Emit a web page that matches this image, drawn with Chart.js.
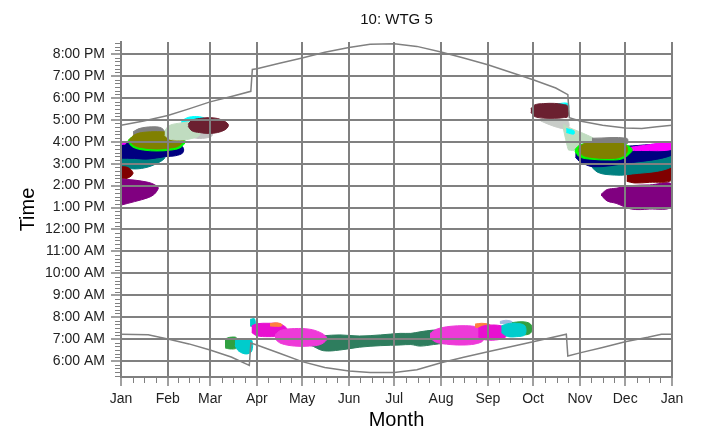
<!DOCTYPE html>
<html>
<head>
<meta charset="utf-8">
<title>10: WTG 5</title>
<script src="https://cdn.jsdelivr.net/npm/chart.js@4"></script>
<style>
  html, body { margin: 0; padding: 0; background: #fff; }
  #wrap { width: 701px; height: 435px; }
</style>
</head>
<body>
<div id="wrap"><canvas id="chart"></canvas></div>
<script>
// axis labels
const monthStarts = [0, 31, 59, 90, 120, 151, 181, 212, 243, 273, 304, 334, 365];
const monthLabels = ['Jan', 'Feb', 'Mar', 'Apr', 'May', 'Jun', 'Jul', 'Aug', 'Sep', 'Oct', 'Nov', 'Dec', 'Jan'];
const hourTicks = [6, 7, 8, 9, 10, 11, 12, 13, 14, 15, 16, 17, 18, 19, 20];

// sun set / sun rise (day of year, hour)
const sunsetDay  = [0, 15, 31, 45, 59, 75, 86, 87, 90, 105, 120, 135, 151, 165, 181, 196, 212, 227, 243, 258, 273, 288, 296, 297, 304, 319, 334, 345, 355, 365];
const sunsetTime = [16.75, 16.95, 17.2, 17.5, 17.82, 18.1, 18.3, 19.3, 19.33, 19.58, 19.82, 20.08, 20.3, 20.45, 20.47, 20.35, 20.09, 19.82, 19.51, 19.17, 18.83, 18.45, 18.15, 17.1, 16.95, 16.75, 16.63, 16.6, 16.68, 16.75];
const sunriseDay  = [0, 18, 31, 45, 59, 73, 85, 86, 90, 105, 120, 135, 151, 165, 181, 196, 212, 227, 243, 258, 273, 295, 296, 304, 319, 334, 349, 358, 365];
const sunriseTime = [7.22, 7.2, 7.0, 6.78, 6.5, 6.18, 5.8, 6.82, 6.73, 6.35, 5.97, 5.7, 5.54, 5.47, 5.48, 5.6, 5.92, 6.17, 6.42, 6.65, 6.88, 7.22, 6.23, 6.37, 6.62, 6.88, 7.08, 7.22, 7.22];

// shadow areas: [day, from hour, to hour]
const greyJan     = [[8, 16.1, 16.45], [12, 15.9, 16.6], [20, 15.9, 16.68], [27, 16.0, 16.62], [30, 16.2, 16.3]];
const tealJan     = [[0, 14.85, 15.6], [9, 14.76, 15.6], [18, 14.85, 15.6], [26, 15.09, 15.5], [29, 15.25, 15.3]];
const navyJan     = [[0, 15.25, 15.95], [9, 15.24, 16.0], [18, 15.21, 16.05], [29, 15.32, 16.0], [36, 15.36, 15.95], [41, 15.5, 15.75]];
const magentaJan  = [[0, 15.88, 16.0], [3, 15.9, 15.98]];
const greenJan    = [[4.5, 16.0, 16.05], [8, 15.75, 16.25], [15, 15.62, 16.38], [24, 15.58, 16.42], [33, 15.62, 16.38], [39, 15.72, 16.25], [42.4, 15.95, 16.05]];
const oliveJan    = [[5.5, 16.03, 16.1], [9, 15.82, 16.32], [15, 15.72, 16.43], [24, 15.67, 16.46], [33, 15.72, 16.42], [38, 15.8, 16.3], [41.2, 16.0, 16.1]];
const silverFeb   = [[44, 16.25, 16.5], [52, 16.15, 16.5], [60, 16.25, 16.45]];
const cyanFeb     = [[40, 16.85, 16.95], [45, 16.85, 17.12], [52, 16.85, 17.14], [56, 16.95, 17.05]];
const paleFeb     = [[29, 16.3, 16.5], [32, 16.12, 16.74], [40, 16.08, 16.86], [47, 16.15, 16.9], [52, 16.3, 16.75]];
const maroonFeb   = [[44.5, 16.7, 16.8], [47, 16.5, 16.98], [52, 16.42, 17.06], [58, 16.38, 17.1], [64, 16.42, 17.06], [69, 16.55, 16.92], [71, 16.7, 16.8]];
const redJan      = [[0, 14.3, 14.86], [4, 14.33, 14.84], [7, 14.45, 14.7], [8, 14.56, 14.58]];
const purpleJan   = [[0, 13.11, 14.3], [9, 13.27, 14.25], [18, 13.45, 14.15], [22, 13.6, 14.05], [24.6, 13.85, 13.92]];

const silverOct   = [[278, 16.95, 17.07], [287, 16.7, 17.05], [296, 16.6, 16.95]];
const paleOct     = [[293, 16.6, 16.8], [296.5, 15.62, 16.66], [305, 15.62, 16.42], [313, 15.75, 16.16]];
const cyanOct     = [[288, 17.55, 17.72], [296, 17.45, 17.75]];
const cyanOct2    = [[295, 16.42, 16.6], [300, 16.35, 16.5]];
const maroonOct   = [[271.5, 17.35, 17.5], [274, 17.15, 17.68], [280, 17.08, 17.74], [287, 17.07, 17.75], [293, 17.1, 17.7], [296, 17.15, 17.62]];
const purpleDec   = [[318, 13.57, 13.6], [322, 13.3, 13.82], [328, 13.19, 13.88], [338, 12.93, 14.0], [350, 12.93, 14.03], [365, 13.04, 14.06]];
const redDec      = [[335, 14.2, 14.62], [340, 14.12, 14.75], [350, 14.15, 14.82], [365, 14.25, 14.88]];
const tealDec     = [[310, 15.0, 15.3], [316, 14.6, 15.2], [327, 14.48, 15.2], [335, 14.5, 15.2], [365, 14.86, 15.6]];
const navyDec     = [[301, 15.3, 15.6], [304, 15.09, 15.7], [313, 14.86, 15.75], [335, 15.02, 15.8], [365, 15.39, 15.85]];
const magentaDec  = [[335, 15.6, 15.72], [345, 15.6, 15.82], [365, 15.65, 15.95]];
const greyNov     = [[312, 15.9, 16.16], [335, 15.9, 16.16]];
const greenNov    = [[300.7, 15.55, 15.65], [304, 15.3, 15.85], [312, 15.2, 15.95], [322, 15.17, 15.97], [332, 15.22, 15.93], [338.3, 15.55, 15.7]];
const oliveNov    = [[303, 15.55, 15.7], [307, 15.35, 15.92], [315, 15.26, 16.0], [322, 15.24, 16.0], [330, 15.28, 15.97], [335, 15.5, 15.8]];

const greenMar    = [[68.9, 6.6, 7.0], [72, 6.55, 7.08], [76.6, 6.6, 7.05]];
const cyanMar     = [[75.5, 6.7, 6.95], [78, 6.45, 6.99], [83, 6.32, 6.97], [86.6, 6.45, 6.95]];
const cyanApr     = [[85.5, 7.6, 7.9], [88.5, 7.55, 7.92]];
const seaSummer   = [[112, 6.9, 7.05], [125, 6.73, 7.1], [134, 6.47, 7.15], [145, 6.5, 7.19], [158, 6.63, 7.14], [172, 6.7, 7.19], [185, 6.73, 7.26], [192, 6.75, 7.26], [198, 6.68, 7.33], [207, 6.75, 7.41], [214, 6.81, 7.4], [225, 6.88, 7.35]];
const magentaApr  = [[86.6, 7.3, 7.6], [90, 7.15, 7.7], [98, 7.11, 7.72], [105, 7.15, 7.7], [109.7, 7.35, 7.5]];
const orangeApr   = [[98.7, 7.6, 7.7], [103, 7.58, 7.74], [106.4, 7.6, 7.68]];
const pinkApr     = [[102, 7.0, 7.2], [106, 6.8, 7.4], [115, 6.68, 7.48], [125, 6.68, 7.45], [132, 6.75, 7.3], [136, 6.95, 7.1]];
const pinkAug     = [[204.7, 7.05, 7.25], [209, 6.85, 7.45], [218, 6.75, 7.58], [228, 6.73, 7.61], [236, 6.8, 7.55], [240, 6.95, 7.4]];
const orangeAug   = [[234.5, 7.55, 7.68], [239, 7.52, 7.72], [244.4, 7.58, 7.66]];
const magentaSep  = [[236.7, 7.1, 7.5], [240, 6.98, 7.6], [248, 6.96, 7.64], [254, 7.05, 7.55], [255.5, 7.2, 7.4]];
const blueSep     = [[251, 7.72, 7.8], [255, 7.7, 7.86], [259, 7.72, 7.8]];
const greenSep    = [[259, 7.3, 7.75], [265, 7.2, 7.79], [270, 7.22, 7.74], [272, 7.35, 7.6]];
const cyanSep     = [[252, 7.3, 7.6], [256, 7.12, 7.7], [262, 7.11, 7.72], [267.6, 7.2, 7.6]];

// bottom first, top last
const blobs = [
  [greyJan, '#808080'], [tealJan, '#008080'], [navyJan, '#000080'], [magentaJan, '#ff00ff'],
  [greenJan, '#00ff00'], [oliveJan, '#808000'], [silverFeb, '#c0c0c0'], [cyanFeb, '#00ffff'],
  [paleFeb, '#c0dcc0'], [maroonFeb, '#6b2030'], [redJan, '#800000'], [purpleJan, '#800080'],
  [silverOct, '#c8ccc8'], [paleOct, '#c0dcc0', 0.1], [cyanOct, '#00ffff'], [cyanOct2, '#00ffff'],
  [maroonOct, '#6b2030'], [purpleDec, '#800080'], [redDec, '#800000'], [tealDec, '#008080'],
  [navyDec, '#000080'], [magentaDec, '#ff00ff'], [greyNov, '#808080'], [greenNov, '#00ff00'],
  [oliveNov, '#808000'],
  [greenMar, '#30a040'], [cyanMar, '#00cccc'], [cyanApr, '#00cccc'], [seaSummer, '#2e7d5e'],
  [magentaApr, '#e80fd0'], [orangeApr, '#ff8040'], [pinkApr, '#ee3ad8'], [pinkAug, '#ee3ad8'],
  [orangeAug, '#ff8040'], [magentaSep, '#e80fd0'], [blueSep, '#a0b8e0'], [greenSep, '#30a040'],
  [cyanSep, '#00cccc']
];

function outline(band) {
  const top = band.map(p => ({ x: p[0], y: p[2] }));
  const bottom = band.slice().reverse().map(p => ({ x: p[0], y: p[1] }));
  return top.concat(bottom);
}

function hourLabel(h) {
  const hh = ((h + 11) % 12) + 1;
  return hh + ':00 ' + (h < 12 ? 'AM' : 'PM');
}

const datasets = [];
datasets.push({
  data: sunsetDay.map((d, i) => ({ x: d, y: sunsetTime[i] })),
  borderColor: '#808080', borderWidth: 1.5, pointRadius: 0, fill: false, tension: 0, order: 0
});
datasets.push({
  data: sunriseDay.map((d, i) => ({ x: d, y: sunriseTime[i] })),
  borderColor: '#808080', borderWidth: 1.5, pointRadius: 0, fill: false, tension: 0, order: 0
});
blobs.forEach((b, i) => {
  datasets.push({
    data: outline(b[0]),
    backgroundColor: b[1],
    borderColor: b[1],
    borderWidth: 1,
    pointRadius: 0,
    fill: 'shape',
    tension: b[2] !== undefined ? b[2] : 0.35,
    order: blobs.length - i + 1
  });
});

// minor ticks on both axes
const minorTicks = {
  id: 'minorTicks',
  afterDraw(chart) {
    const { ctx, scales: { x, y } } = chart;
    ctx.save();
    ctx.strokeStyle = '#808080';
    ctx.lineWidth = 1;
    ctx.beginPath();
    for (let m = 0; m < monthStarts.length - 1; m++) {
      const len = monthStarts[m + 1] - monthStarts[m];
      for (let k = 1; k < 4; k++) {
        const px = Math.round(x.getPixelForValue(monthStarts[m] + len * k / 4)) + 0.5;
        ctx.moveTo(px, y.bottom);
        ctx.lineTo(px, y.bottom + 6);
      }
    }
    for (let h = 5; h <= 21; h++) {
      for (let k = 1; k < 6; k++) {
        const v = h + k / 6;
        if (v < y.min || v > y.max) continue;
        const py = Math.round(y.getPixelForValue(v)) + 0.5;
        ctx.moveTo(x.left - 6, py);
        ctx.lineTo(x.left, py);
      }
    }
    ctx.stroke();
    ctx.restore();
  }
};

Chart.defaults.font.family = '"Liberation Sans", Arial, sans-serif';
Chart.defaults.color = '#222';

new Chart(document.getElementById('chart'), {
  type: 'line',
  data: { datasets: datasets },
  plugins: [minorTicks],
  options: {
    responsive: true,
    maintainAspectRatio: false,
    animation: false,
    layout: { padding: { left: 0, right: 29, top: 0, bottom: 0 } },
    plugins: {
      legend: { display: false },
      tooltip: { enabled: false },
      title: {
        display: true,
        text: '10: WTG 5',
        fullSize: false,
        color: '#111',
        font: { size: 15, weight: 'normal' },
        padding: { top: 11, bottom: 13 }
      }
    },
    scales: {
      x: {
        type: 'linear',
        min: 0,
        max: 365,
        afterBuildTicks: s => { s.ticks = monthStarts.map(v => ({ value: v })); },
        afterFit: s => { s.height = 58; },
        ticks: {
          autoSkip: false,
          maxRotation: 0,
          padding: 5,
          font: { size: 14 },
          callback: (v, i) => monthLabels[i]
        },
        grid: { color: '#808080', lineWidth: 2, tickLength: 9, tickColor: '#808080', tickWidth: 1.5, z: 1 },
        border: { color: '#808080', width: 2, z: 1 },
        title: { display: true, text: 'Month', color: '#000', font: { size: 20 }, padding: { top: 0, bottom: 3 } }
      },
      y: {
        type: 'linear',
        min: 5.27,
        max: 20.55,
        afterBuildTicks: s => { s.ticks = hourTicks.map(v => ({ value: v })); },
        afterFit: s => { s.width = 121; },
        ticks: {
          autoSkip: false,
          padding: 6,
          font: { size: 14 },
          callback: v => hourLabel(v)
        },
        grid: { color: '#808080', lineWidth: 2, tickLength: 10, tickColor: '#808080', tickWidth: 1.5, z: 1 },
        border: { color: '#808080', width: 2, z: 1 },
        title: { display: true, text: 'Time', color: '#000', font: { size: 20 }, padding: { top: 16, bottom: 0 } }
      }
    }
  }
});
</script>
</body>
</html>
